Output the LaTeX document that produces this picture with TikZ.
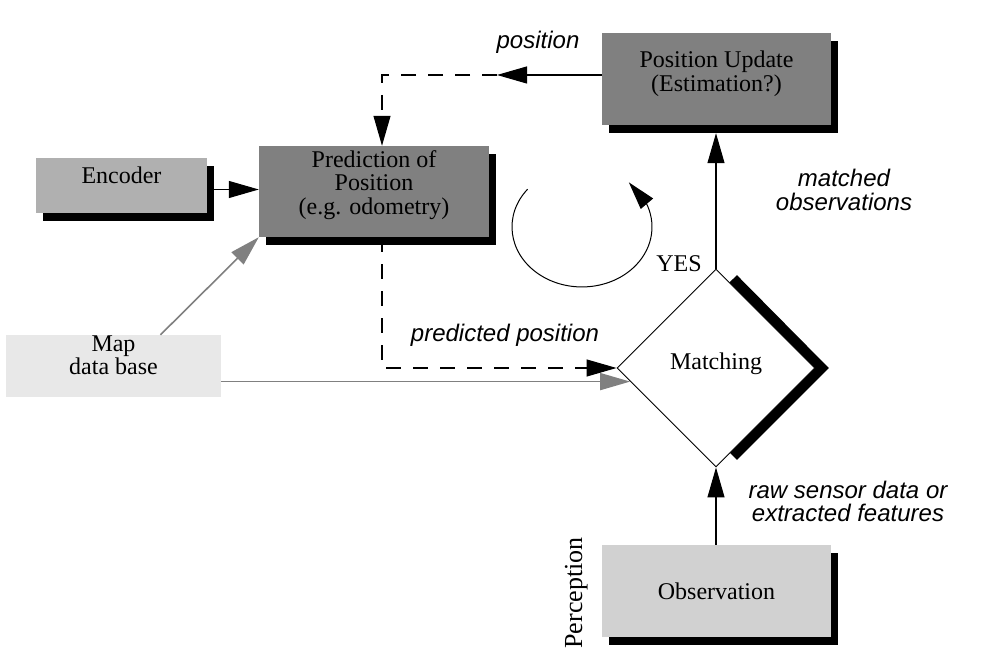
\documentclass[tikz,border=0pt]{standalone}
\usepackage{fontspec}
\setmainfont{Liberation Serif}
\setsansfont{Liberation Sans}
\usetikzlibrary{arrows.meta,shapes.geometric,shadows,bending}

\definecolor{updfill}{gray}{0.5}
\definecolor{encfill}{gray}{0.69}
\definecolor{obsfill}{gray}{0.82}
\definecolor{mapfill}{gray}{0.91}

\tikzset{
  block/.style={inner sep=0pt, align=center, font=\fontsize{24}{23.5}\selectfont},
  shadowed/.style={general shadow={fill=black, shadow xshift=7pt, shadow yshift=-8pt}},
  lbl/.style={font=\sffamily\itshape\fontsize{24}{23.5}\selectfont, align=center},
  flow/.style={-{Triangle[length=30pt,width=17pt]}, line width=1.1pt},
  dataflow/.style={flow, line width=1.6pt, gray},
  predflow/.style={flow, dash pattern=on 15pt off 12pt}
}

\begin{document}
\begin{tikzpicture}[x=1pt, y=1pt]
  \useasboundingbox (0,0) rectangle (1004,663);
  % Boxes
  \node[block, shadowed, fill=encfill, minimum width=171pt, minimum height=55pt,
    text depth=21.4pt] (enc) at (121.5,477.5) {Encoder};
  \node[block, shadowed, fill=updfill, minimum width=230pt, minimum height=91pt,
    text depth=18.4pt] (pred) at (374,471.5) {Prediction of\\Position\\(e.g. odometry)};
  \node[block, shadowed, fill=updfill, minimum width=229pt, minimum height=92pt,
    text depth=15.9pt] (pu) at (716.5,584) {Position Update\\(Estimation?)};
  \node[block, shadowed, fill=obsfill, minimum width=229pt, minimum height=92pt]
    (obs) at (716.5,72) {Observation};
  \node[block, fill=mapfill, minimum width=215pt, minimum height=62pt,
    text depth=21.4pt] (map) at (113.5,297) {Map\\data base};
  % Matching
  \draw[line width=11pt] (733,384) -- (821,295) -- (733,207);
  \node[block, diamond, draw, fill=white, line width=0.9pt, aspect=1,
    minimum width=198pt, minimum height=198pt, text depth=14.4pt]
    (match) at (716,295) {Matching};
  % Connectors
  \coordinate (fbtip) at (497,588);
  \coordinate (fb) at (382,588);
  \coordinate (pubot) at ([yshift=-8pt]pu.south);
  \draw[flow] (pu.west |- fb) -- (fbtip);
  \draw[predflow] (fbtip) -- (fb) -- (fb |- pred.north);
  \draw[flow] ([yshift=-4pt]enc.east) -- ([yshift=-4pt]enc.east -| pred.west);
  \draw[dataflow] ([xshift=47pt]map.north) -- (pred.south west);
  \draw[dataflow] (map.east |- match.189) -- (match.189);
  \draw[predflow] (fb |- pred.south) -- (fb |- match.west) -- (match.west);
  \draw[flow] (match.south |- obs.north) -- (match.south);
  \draw[flow] (match.north) -- (match.north |- pubot);
  % Loop
  \draw[-{Triangle[length=28pt,width=16pt]}, line width=1pt]
    (527.6,473.8) arc[start angle=141, end angle=408, x radius=70, y radius=60];
  % Labels
  \node[lbl, anchor=base] (poslbl) at (538,614) {position};
  \node[lbl] (matchedlbl) at (844,473) {matched\\observations};
  \node[lbl, anchor=base] (predlbl) at (505,321) {predicted position};
  \node[lbl] (rawlbl) at (848,161.5) {raw sensor data or\\extracted features};
  \node[block, anchor=base] (yes) at (679,391) {YES};
  \node[block, font=\fontsize{26}{26}\selectfont, rotate=90, anchor=base]
    (perc) at (582,70) {Perception};
\end{tikzpicture}
\end{document}
